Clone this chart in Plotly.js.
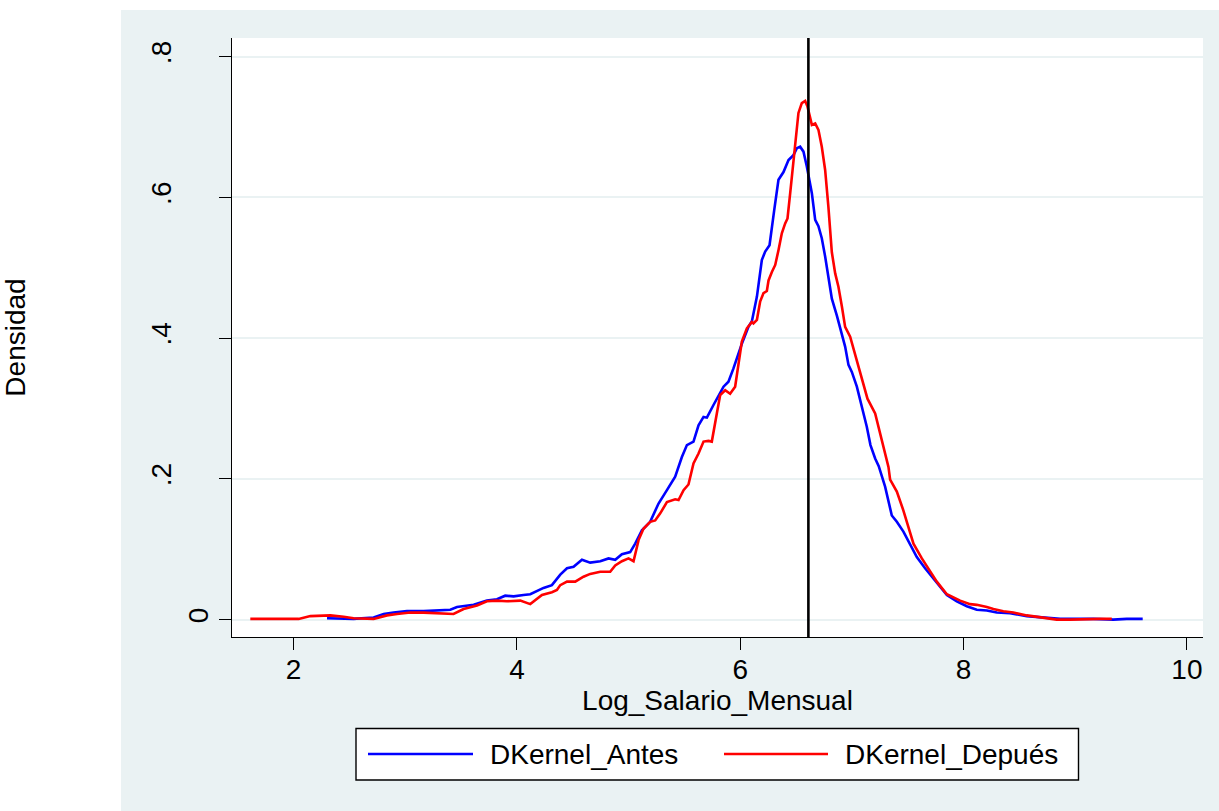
<!DOCTYPE html>
<html>
<head>
<meta charset="utf-8">
<script src="https://cdn.plot.ly/plotly-3.0.1.min.js"></script>
<style>
  html, body { margin: 0; padding: 0; background: #ffffff; }
  #chart { width: 1219px; height: 811px; }
</style>
</head>
<body>
<div id="chart"></div>
<script>
// ---- Data ----
var seriesNames = ["DKernel_Antes", "DKernel_Depués"];

var antesX = [2.299, 2.537, 2.716, 2.806, 2.895, 3.015, 3.164, 3.284, 3.403, 3.463, 3.612, 3.731, 3.821, 3.895, 3.970, 4.059, 4.119, 4.238, 4.313, 4.388, 4.448, 4.507, 4.582, 4.656, 4.746, 4.820, 4.880, 4.940, 5.014, 5.059, 5.119, 5.193, 5.268, 5.343, 5.417, 5.477, 5.522, 5.581, 5.626, 5.671, 5.701, 5.760, 5.850, 5.894, 5.939, 6.014, 6.073, 6.104, 6.149, 6.193, 6.223, 6.262, 6.283, 6.304, 6.342, 6.387, 6.432, 6.476, 6.507, 6.536, 6.566, 6.596, 6.641, 6.671, 6.700, 6.730, 6.760, 6.790, 6.820, 6.865, 6.910, 6.939, 6.969, 6.999, 7.044, 7.089, 7.133, 7.166, 7.208, 7.240, 7.277, 7.297, 7.357, 7.402, 7.461, 7.521, 7.581, 7.655, 7.730, 7.790, 7.850, 7.939, 8.029, 8.118, 8.208, 8.297, 8.416, 8.566, 8.714, 8.864, 9.162, 9.341, 9.461, 9.604];
var antesY = [0.002, 0.001, 0.003, 0.008, 0.010, 0.012, 0.012, 0.013, 0.014, 0.018, 0.021, 0.027, 0.029, 0.034, 0.033, 0.035, 0.036, 0.045, 0.049, 0.064, 0.073, 0.075, 0.085, 0.081, 0.083, 0.087, 0.085, 0.093, 0.096, 0.108, 0.127, 0.139, 0.165, 0.184, 0.203, 0.231, 0.248, 0.253, 0.276, 0.288, 0.287, 0.305, 0.331, 0.338, 0.357, 0.392, 0.416, 0.424, 0.459, 0.511, 0.523, 0.532, 0.554, 0.582, 0.625, 0.636, 0.653, 0.660, 0.670, 0.672, 0.665, 0.644, 0.606, 0.568, 0.559, 0.542, 0.516, 0.483, 0.456, 0.432, 0.407, 0.388, 0.362, 0.352, 0.331, 0.302, 0.274, 0.248, 0.229, 0.218, 0.200, 0.189, 0.148, 0.139, 0.125, 0.108, 0.089, 0.073, 0.058, 0.046, 0.035, 0.026, 0.019, 0.014, 0.013, 0.010, 0.009, 0.005, 0.003, 0.001, 0.001, 0.000, 0.001, 0.001];

var despuesX = [1.612, 2.045, 2.150, 2.239, 2.329, 2.448, 2.537, 2.716, 2.836, 2.926, 3.045, 3.164, 3.284, 3.432, 3.522, 3.642, 3.731, 3.821, 3.910, 4.030, 4.119, 4.224, 4.313, 4.358, 4.388, 4.448, 4.522, 4.596, 4.656, 4.746, 4.835, 4.880, 4.940, 4.999, 5.044, 5.089, 5.133, 5.193, 5.238, 5.283, 5.343, 5.417, 5.447, 5.492, 5.536, 5.581, 5.626, 5.671, 5.715, 5.745, 5.790, 5.820, 5.865, 5.909, 5.954, 6.014, 6.059, 6.104, 6.118, 6.149, 6.178, 6.208, 6.238, 6.253, 6.283, 6.313, 6.342, 6.372, 6.402, 6.423, 6.447, 6.476, 6.507, 6.521, 6.551, 6.581, 6.602, 6.626, 6.641, 6.671, 6.700, 6.730, 6.760, 6.789, 6.820, 6.850, 6.879, 6.910, 6.939, 6.984, 7.014, 7.058, 7.103, 7.139, 7.208, 7.253, 7.298, 7.327, 7.342, 7.402, 7.461, 7.551, 7.626, 7.700, 7.760, 7.850, 7.969, 8.058, 8.118, 8.208, 8.267, 8.356, 8.446, 8.566, 8.685, 8.834, 8.953, 9.103, 9.222, 9.327];
var despuesY = [0.001, 0.001, 0.005, 0.006, 0.006, 0.004, 0.002, 0.001, 0.006, 0.008, 0.010, 0.010, 0.009, 0.008, 0.015, 0.020, 0.026, 0.027, 0.026, 0.027, 0.022, 0.035, 0.039, 0.042, 0.049, 0.054, 0.054, 0.061, 0.065, 0.068, 0.068, 0.077, 0.083, 0.087, 0.083, 0.113, 0.129, 0.139, 0.141, 0.151, 0.167, 0.171, 0.170, 0.184, 0.192, 0.222, 0.236, 0.253, 0.254, 0.253, 0.293, 0.319, 0.326, 0.321, 0.331, 0.395, 0.414, 0.423, 0.421, 0.426, 0.452, 0.464, 0.467, 0.482, 0.494, 0.504, 0.525, 0.549, 0.563, 0.570, 0.606, 0.648, 0.700, 0.720, 0.734, 0.737, 0.729, 0.710, 0.703, 0.705, 0.696, 0.672, 0.639, 0.587, 0.522, 0.492, 0.473, 0.445, 0.416, 0.402, 0.385, 0.359, 0.336, 0.314, 0.293, 0.265, 0.238, 0.217, 0.199, 0.182, 0.155, 0.108, 0.087, 0.068, 0.054, 0.036, 0.027, 0.022, 0.021, 0.018, 0.015, 0.012, 0.010, 0.006, 0.003, 0.000, 0.000, 0.001, 0.001, 0.001];

var referenceLineX = 6.61;

var xTickVals = [2, 4, 6, 8, 10];
var xTickText = ["2", "4", "6", "8", "10"];
var yTickVals = [0, 0.2, 0.4, 0.6, 0.8];
var yTickText = ["0", ".2", ".4", ".6", ".8"];

var xAxisTitle = "Log_Salario_Mensual";
var yAxisTitle = "Densidad";

// ---- Styling ----
var FONT = "Liberation Sans, Arial, Helvetica, sans-serif";
var BLUISH = "#EAF2F3";
var colors = ["#0000FF", "#FF0000"];

// The reference sets the rotated ".x" labels further out than "0":
// an extra (blank) second line shifts them outward.
var yTickTextShown = yTickText.map(function (t) {
  return t.charAt(0) === "." ? t + "<br>\u00a0" : t;
});

var traces = [
  { x: antesX, y: antesY, name: seriesNames[0], type: "scatter", mode: "lines",
    line: { color: colors[0], width: 2.6 }, hoverinfo: "x+y+name" },
  { x: despuesX, y: despuesY, name: seriesNames[1], type: "scatter", mode: "lines",
    line: { color: colors[1], width: 2.6 }, hoverinfo: "x+y+name" }
];

// plot area geometry in px (for paper-coordinate helpers)
var W = 1219, H = 811;
var M = { l: 232, r: 16, t: 38, b: 174 };
var PW = W - M.l - M.r, PH = H - M.t - M.b;
function px2x(px) { return (px - M.l) / PW; }
function py2y(py) { return (H - M.b - py) / PH; }

var legendY = py2y(754);

var shapes = [
  // white strips outside the graph region
  { type: "rect", xref: "paper", yref: "paper", x0: px2x(-5), x1: px2x(121), y0: py2y(H + 5), y1: py2y(-5),
    fillcolor: "#ffffff", line: { width: 0 }, layer: "below" },
  { type: "rect", xref: "paper", yref: "paper", x0: px2x(-5), x1: px2x(W + 5), y0: py2y(10), y1: py2y(-5),
    fillcolor: "#ffffff", line: { width: 0 }, layer: "below" },
  // reference line
  { type: "line", xref: "x", yref: "paper", x0: referenceLineX, x1: referenceLineX, y0: 0, y1: 1,
    line: { color: "#000000", width: 2.6 } },
  // legend box
  { type: "rect", xref: "paper", yref: "paper", x0: px2x(356), x1: px2x(1078.5), y0: py2y(780), y1: py2y(728.5),
    fillcolor: "#ffffff", line: { color: "#000000", width: 1.4 } },
  // legend samples
  { type: "line", xref: "paper", yref: "paper", x0: px2x(368), x1: px2x(473), y0: legendY, y1: legendY,
    line: { color: colors[0], width: 2.6 } },
  { type: "line", xref: "paper", yref: "paper", x0: px2x(724), x1: px2x(828), y0: legendY, y1: legendY,
    line: { color: colors[1], width: 2.6 } }
];

var annotations = [
  { xref: "paper", yref: "paper", x: px2x(488), y: legendY, xanchor: "left", yanchor: "middle",
    text: seriesNames[0], showarrow: false, font: { family: FONT, size: 28, color: "#000" } },
  { xref: "paper", yref: "paper", x: px2x(843), y: legendY, xanchor: "left", yanchor: "middle",
    text: seriesNames[1], showarrow: false, font: { family: FONT, size: 28, color: "#000" } }
];

var layout = {
  width: W, height: H,
  margin: M,
  paper_bgcolor: BLUISH,
  plot_bgcolor: "#ffffff",
  showlegend: false,
  font: { family: FONT, size: 28, color: "#000000" },
  xaxis: {
    range: [1.448, 10.144],
    tickmode: "array", tickvals: xTickVals, ticktext: xTickText,
    ticks: "outside", ticklen: 12, tickwidth: 1.4, tickcolor: "#000",
    ticklabelstandoff: -5,
    showline: true, linecolor: "#000", linewidth: 1.4,
    showgrid: false, zeroline: false,
    tickfont: { family: FONT, size: 28, color: "#000" },
    title: { text: xAxisTitle, font: { family: FONT, size: 28, color: "#000" }, standoff: 0 }
  },
  yaxis: {
    range: [-0.0247, 0.8265],
    tickmode: "array", tickvals: yTickVals, ticktext: yTickTextShown,
    tickangle: -90,
    ticks: "outside", ticklen: 12, tickwidth: 1.4, tickcolor: "#000",
    showline: true, linecolor: "#000", linewidth: 1.4,
    showgrid: true, gridcolor: BLUISH, gridwidth: 2.2, zeroline: false,
    tickfont: { family: FONT, size: 28, color: "#000" },
    title: { text: yAxisTitle, font: { family: FONT, size: 28, color: "#000" }, standoff: 126 }
  },
  shapes: shapes,
  annotations: annotations
};

Plotly.newPlot("chart", traces, layout, { displayModeBar: false, responsive: false });
</script>
</body>
</html>
